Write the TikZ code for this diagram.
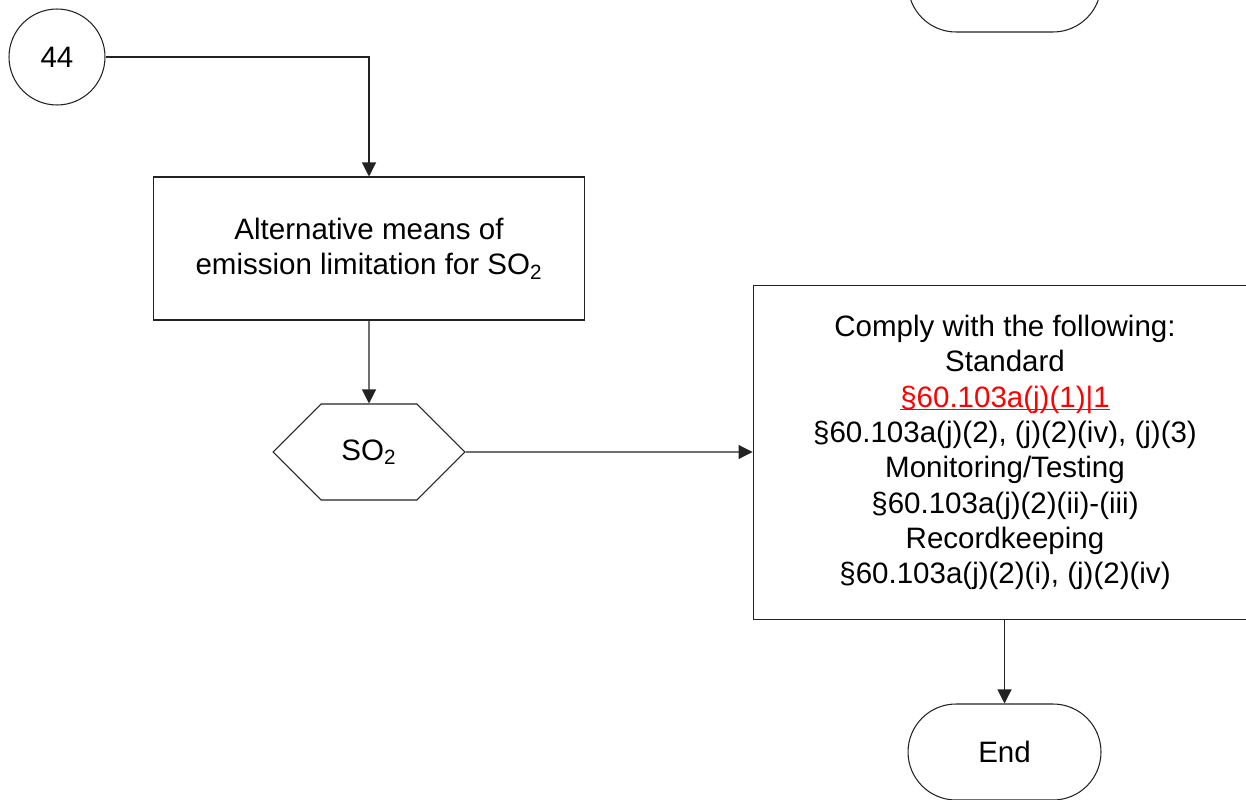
\documentclass[tikz,border=0pt]{standalone}
\usepackage{fontspec}
\setmainfont{Liberation Sans}
\usetikzlibrary{arrows.meta,positioning,shapes.misc,shapes.symbols}
\definecolor{flowline}{HTML}{222222}
\definecolor{flowred}{HTML}{FF0000}

\begin{document}
\begin{tikzpicture}[x=0.02cm,y=-0.02cm, every node/.style={font=\fontsize{16.8}{20.1}\selectfont},
 box/.style={draw=flowline,line width=0.6pt,align=center,inner sep=0pt},
 connector/.style={draw=flowline,line width=0.6pt,circle,minimum size=1.92cm,inner sep=0pt},
 terminal/.style={draw=flowline,line width=0.6pt,rounded rectangle,minimum width=3.86cm,minimum height=1.92cm,inner sep=0pt},
 choice/.style={draw=flowline,line width=0.6pt,signal,signal to=west and east,signal pointer angle=90,minimum width=3.84cm,minimum height=1.92cm,inner sep=0pt},
 arr/.style={-{Triangle[length=0.28cm,width=0.28cm]},line width=0.6pt,draw=flowline}]
\useasboundingbox (0,0) rectangle (1246,800);
\node[connector] (c44) at (57,57) {44};
\node[terminal] (prev) at (1004.5,-16) {};
\node[box,minimum width=8.64cm,minimum height=2.86cm] (alt) at (369,248.5) {Alternative means of\\emission limitation for SO\textsubscript{2}};
\node[choice] (so2) at (369,452) {SO\textsubscript{2}};
\node[box,minimum width=10.08cm,minimum height=6.7cm] (comply) at (1005,452.5) {Comply with the following:\\Standard\\\textcolor{flowred}{\underline{\smash{§60.103a(j)(1)|1}}}\\§60.103a(j)(2), (j)(2)(iv), (j)(3)\\Monitoring/Testing\\§60.103a(j)(2)(ii)-(iii)\\Recordkeeping\\§60.103a(j)(2)(i), (j)(2)(iv)};
\node[terminal] (endn) at (1004.5,752) {End};
\draw[arr] (c44.east) -| (alt.north);
\draw[arr] (alt) -- (so2);
\draw[arr] (so2) -- (comply.west |- so2.east);
\draw[arr] (comply.south -| endn.north) -- (endn.north);
\end{tikzpicture}
\end{document}
